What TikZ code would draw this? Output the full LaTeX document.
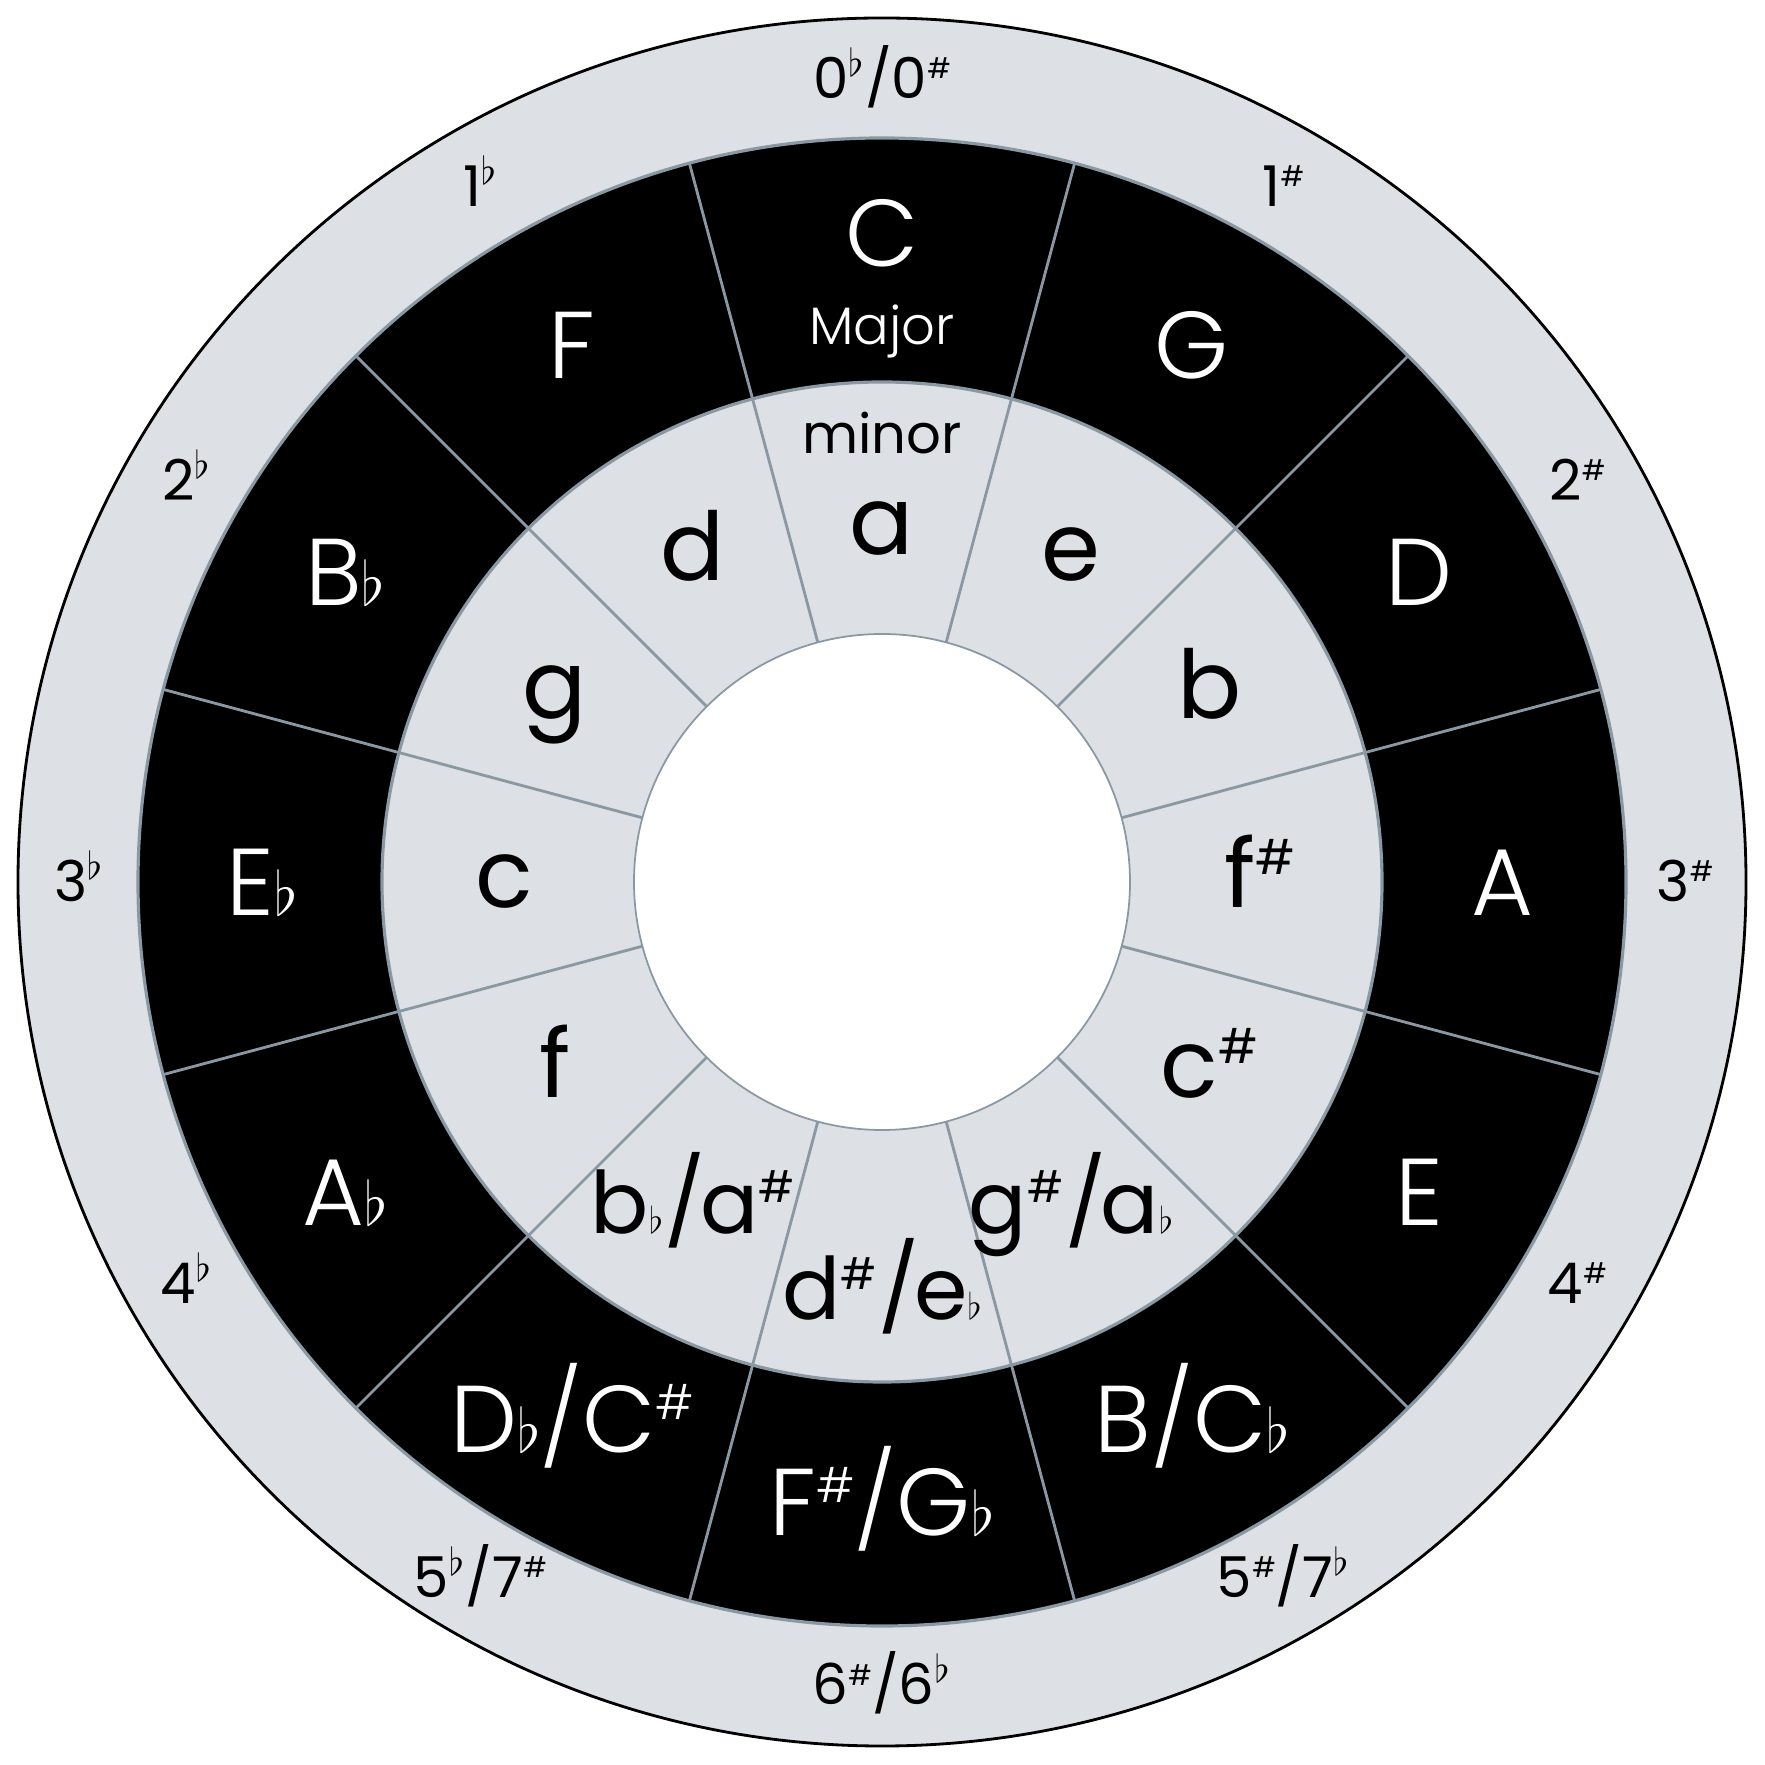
\documentclass[tikz,border=0pt]{standalone}
\usepackage{fontspec}
\setmainfont{Poppins}
\newfontfamily\lightfont{Poppins Light}
\definecolor{RingClr}{HTML}{DDE0E4}
\definecolor{DivClr}{HTML}{8A98A3}
\newcommand\fl{\scalebox{0.7}{$\flat$}}
\newcommand\sfl{\scalebox{0.42}{$\flat$}}
\newcommand\sh{\raisebox{0.35em}{\scalebox{0.5}{\#}}}
\newcommand\upfl{\textsuperscript{$\flat$}}
\newcommand\slh{\kern0.02em/\kern-0.06em}

\begin{document}
\begin{tikzpicture}[
  majorlbl/.style={text=white,font=\lightfont\fontsize{27}{27}\selectfont,text height=19pt,text depth=0pt,inner sep=0pt},
  minorlbl/.style={text=black,font=\fontsize{27}{27}\selectfont,text height=14.8pt,text depth=0pt,inner sep=0pt},
  minorpair/.style={minorlbl,font=\fontsize{24.5}{24.5}\selectfont,text height=13.5pt},
  numlbl/.style={font=\fontsize{16}{16}\selectfont,text height=11.2pt,text depth=0pt,inner sep=0pt},
  divider/.style={draw=DivClr,line width=0.8pt}]
\useasboundingbox (-8.82,-8.83) rectangle (8.83,8.82);
\coordinate (O) at (0,0);

% rings
\fill[RingClr] (O) circle (8.64);
\draw[line width=0.8pt] (O) circle (8.64);
\fill[black] (O) circle (7.44);
\draw[DivClr,line width=0.9pt] (O) circle (7.44);
\fill[RingClr] (O) circle (5.00);
\draw[DivClr,line width=0.9pt] (O) circle (5.00);
\fill[white] (O) circle (2.48);
\draw[DivClr,line width=0.5pt] (O) circle (2.48);

% dividers
\draw[divider] (75:2.48) -- (75:7.44);
\draw[divider] (45:2.48) -- (45:7.44);
\draw[divider] (15:2.48) -- (15:7.44);
\draw[divider] (-15:2.48) -- (-15:7.44);
\draw[divider] (-45:2.48) -- (-45:7.44);
\draw[divider] (-75:2.48) -- (-75:7.44);
\draw[divider] (-105:2.48) -- (-105:7.44);
\draw[divider] (-135:2.48) -- (-135:7.44);
\draw[divider] (-165:2.48) -- (-165:7.44);
\draw[divider] (165:2.48) -- (165:7.44);
\draw[divider] (135:2.48) -- (135:7.44);
\draw[divider] (105:2.48) -- (105:7.44);

% major keys
\node[majorlbl] (C) at (90:6.49) {C};
\node[majorlbl,font=\lightfont\fontsize{15}{15}\selectfont,text height=10.5pt] (Major) at (90:5.56) {Major};
\node[majorlbl] (G) at (60:6.2) {G};
\node[majorlbl] (D) at (30:6.2) {D};
\node[majorlbl] (A) at (0:6.2) {A};
\node[majorlbl] (E) at (-30:6.2) {E};
\node[majorlbl] (B) at (-60:6.2) {B/C\fl};
\node[majorlbl] (Fs) at (-90:6.2) {F\sh/G\fl};
\node[majorlbl] (Db) at (-120:6.2) {D\fl/C\sh};
\node[majorlbl] (Ab) at (-150:6.2) {A\fl};
\node[majorlbl] (Eb) at (180:6.2) {E\fl};
\node[majorlbl] (Bb) at (150:6.2) {B\fl};
\node[majorlbl] (F) at (120:6.2) {F};

% minor keys
\node[minorlbl] (a) at (90:3.53) {a};
\node[minorlbl,font=\fontsize{15.5}{15.5}\selectfont,text height=8.5pt] (minor) at (90:4.43) {minor};
\node[minorlbl] (e) at (60:3.78) {e};
\node[minorlbl] (b) at (30:3.78) {b};
\node[minorlbl] (fs) at (0:3.78) {f\sh};
\node[minorlbl] (cs) at (-30:3.78) {c\sh};
\node[minorpair] (gs) at (-60:3.78) {g\sh\slh a\sfl};
\node[minorpair] (ds) at (-90:4.14) {d\sh\slh e\sfl};
\node[minorpair] (bb) at (-120:3.78) {b\sfl\slh a\sh};
\node[minorlbl] (f) at (-150:3.78) {f};
\node[minorlbl] (c) at (180:3.78) {c};
\node[minorlbl] (g) at (150:3.78) {g};
\node[minorlbl] (d) at (120:3.78) {d};

% accidentals
\node[numlbl] (n0) at (90:8.03) {0\upfl/0\sh};
\node[numlbl] (s1) at (60:8.03) {1\sh};
\node[numlbl] (s2) at (30:8.03) {2\sh};
\node[numlbl] (s3) at (0:8.03) {3\sh};
\node[numlbl] (s4) at (-30:8.03) {4\sh};
\node[numlbl] (s5) at (-60:8.03) {5\sh/7\upfl};
\node[numlbl] (n6) at (-90:8.03) {6\sh/6\upfl};
\node[numlbl] (f5) at (-120:8.03) {5\upfl/7\sh};
\node[numlbl] (f4) at (-150:8.03) {4\upfl};
\node[numlbl] (f3) at (180:8.03) {3\upfl};
\node[numlbl] (f2) at (150:8.03) {2\upfl};
\node[numlbl] (f1) at (120:8.03) {1\upfl};

\end{tikzpicture}
\end{document}
